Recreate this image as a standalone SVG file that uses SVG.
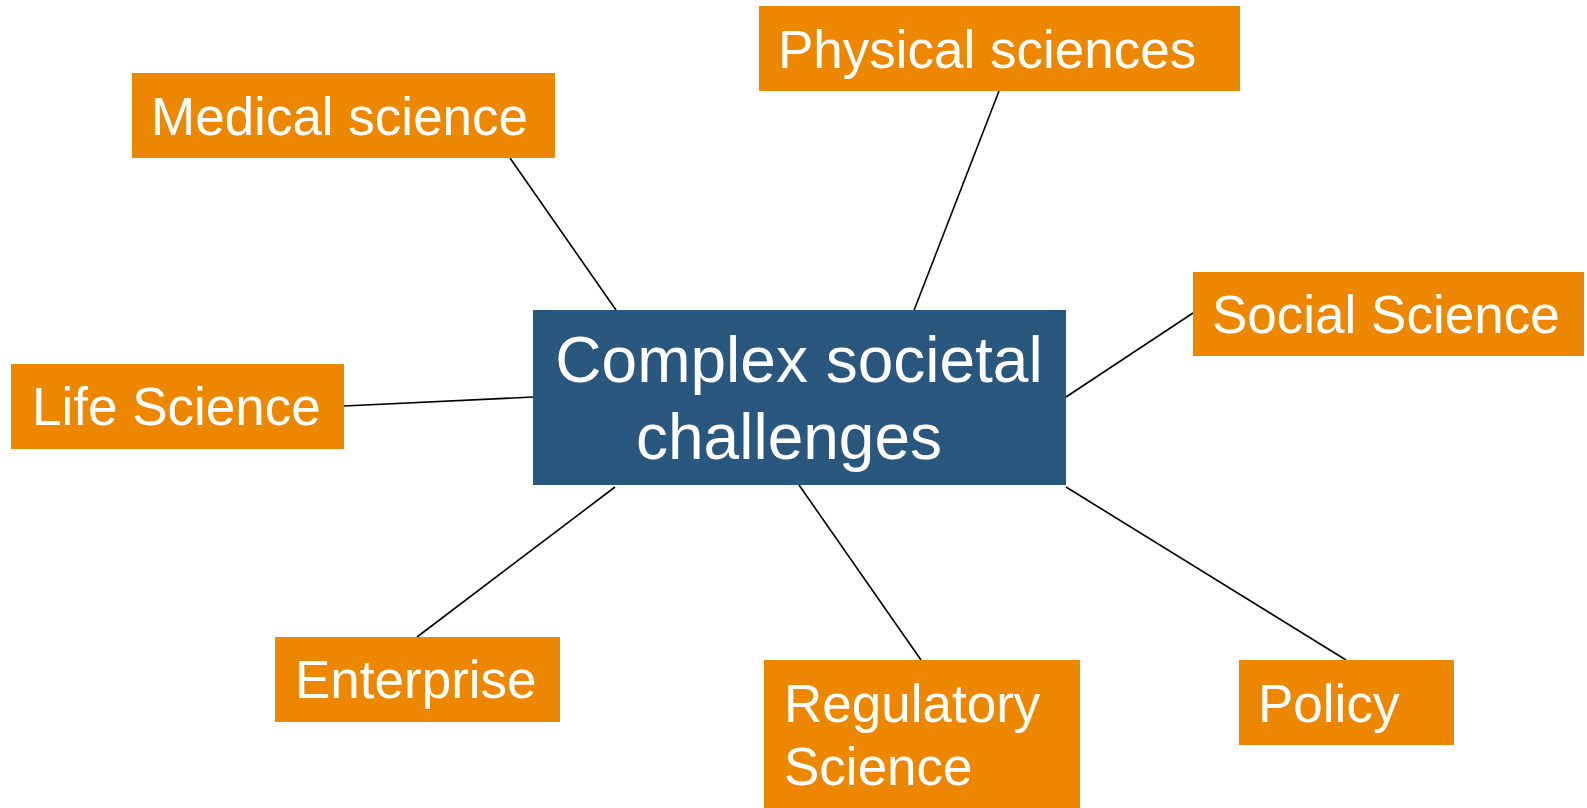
<svg xmlns="http://www.w3.org/2000/svg" width="1587" height="808" viewBox="0 0 1587 808">
<style>
.box{fill:#EE8700}
.hub{fill:#29577E}
.t{font-family:"Liberation Sans",Arial,sans-serif;font-size:53px;fill:#fff}
.th{font-family:"Liberation Sans",Arial,sans-serif;font-size:64px;fill:#fff}
.c{stroke:#000;stroke-width:1.6;fill:none}
</style>
<rect width="1587" height="808" fill="#fff"/>
<g id="connectors">
<line class="c" x1="510" y1="158" x2="616" y2="310"/>
<line class="c" x1="999" y1="91" x2="913" y2="313"/>
<line class="c" x1="344" y1="406" x2="533" y2="397"/>
<line class="c" x1="1066" y1="397" x2="1193" y2="313"/>
<line class="c" x1="615" y1="487" x2="417" y2="637"/>
<line class="c" x1="799" y1="485" x2="921" y2="660"/>
<line class="c" x1="1066" y1="487" x2="1346" y2="660"/>
</g>
<g id="hub">
<rect class="hub" x="533" y="310" width="533" height="175"/>
<text class="th" x="799" y="382" text-anchor="middle">Complex societal</text>
<text class="th" x="789" y="459" text-anchor="middle">challenges</text>
</g>
<g id="medical">
<rect class="box" x="132" y="73" width="423" height="85"/>
<text class="t" x="151" y="135">Medical science</text>
</g>
<g id="physical">
<rect class="box" x="759" y="6" width="481" height="85"/>
<text class="t" x="778" y="68">Physical sciences</text>
</g>
<g id="life">
<rect class="box" x="11" y="364" width="333" height="85"/>
<text class="t" x="32" y="425">Life Science</text>
</g>
<g id="social">
<rect class="box" x="1193" y="272" width="391" height="84"/>
<text class="t" x="1212" y="333">Social Science</text>
</g>
<g id="enterprise">
<rect class="box" x="275" y="637" width="285" height="85"/>
<text class="t" x="295" y="698">Enterprise</text>
</g>
<g id="regulatory">
<rect class="box" x="764" y="660" width="316" height="148"/>
<text class="t" x="784" y="722">Regulatory</text>
<text class="t" x="784" y="785">Science</text>
</g>
<g id="policy">
<rect class="box" x="1239" y="660" width="215" height="85"/>
<text class="t" x="1258" y="722">Policy</text>
</g>
</svg>
